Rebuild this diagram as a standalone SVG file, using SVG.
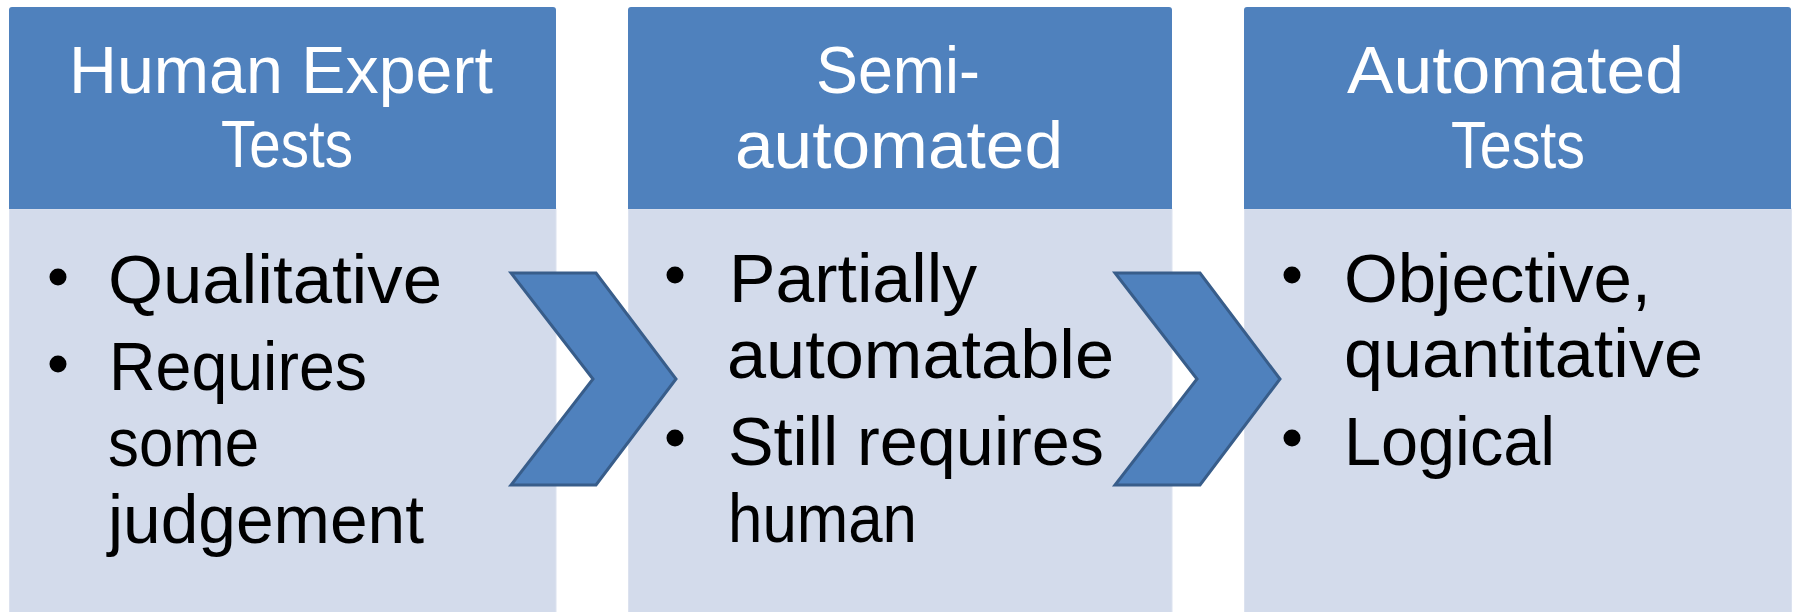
<svg xmlns="http://www.w3.org/2000/svg" width="1793" height="612" viewBox="0 0 1793 612">
  <style>
    .head { fill: #4f81bd; }
    .body { fill: #d3dbeb; stroke: #dce2ef; stroke-width: 1; }
    .ht { font-family: "Liberation Sans", Arial, sans-serif; font-size: 66px; fill: #ffffff; }
    .bt { font-family: "Liberation Sans", Arial, sans-serif; font-size: 68px; fill: #000000; }
    .dot { fill: #000000; }
    .chev { fill: #4f81bd; stroke: #385d8a; stroke-width: 3; stroke-linejoin: miter; }
  </style>
  <rect x="0" y="0" width="1793" height="612" fill="#ffffff"/>

  <g id="node-human-expert">
    <rect class="body" x="9.5" y="209" width="546.5" height="410"/>
    <path class="head" d="M9,209 V10 Q9,7 12,7 H553 Q556,7 556,10 V209 Z"/>
    <text class="ht" x="69" y="93" textLength="424" lengthAdjust="spacingAndGlyphs">Human Expert</text>
    <text class="ht" x="221" y="167" textLength="132" lengthAdjust="spacingAndGlyphs">Tests</text>
    <circle class="dot" cx="58" cy="277" r="8.5"/>
    <text class="bt" x="108" y="303" textLength="334" lengthAdjust="spacingAndGlyphs">Qualitative</text>
    <circle class="dot" cx="58" cy="364" r="8.5"/>
    <text class="bt" x="109" y="390" textLength="258" lengthAdjust="spacingAndGlyphs">Requires</text>
    <text class="bt" x="108" y="466" textLength="151" lengthAdjust="spacingAndGlyphs">some</text>
    <text class="bt" x="108" y="543" textLength="316" lengthAdjust="spacingAndGlyphs">judgement</text>
  </g>

  <g id="node-semi-automated">
    <rect class="body" x="628.5" y="209" width="543.5" height="410"/>
    <path class="head" d="M628,209 V10 Q628,7 631,7 H1169 Q1172,7 1172,10 V209 Z"/>
    <text class="ht" x="816" y="93" textLength="164" lengthAdjust="spacingAndGlyphs">Semi-</text>
    <text class="ht" x="735" y="168" textLength="328" lengthAdjust="spacingAndGlyphs">automated</text>
    <circle class="dot" cx="675" cy="275" r="8.5"/>
    <text class="bt" x="729" y="302" textLength="248" lengthAdjust="spacingAndGlyphs">Partially</text>
    <text class="bt" x="727" y="378" textLength="387" lengthAdjust="spacingAndGlyphs">automatable</text>
    <circle class="dot" cx="675" cy="438" r="8.5"/>
    <text class="bt" x="728" y="465" textLength="376" lengthAdjust="spacingAndGlyphs">Still requires</text>
    <text class="bt" x="728" y="542" textLength="189" lengthAdjust="spacingAndGlyphs">human</text>
  </g>

  <g id="node-automated-tests">
    <rect class="body" x="1244.5" y="209" width="547" height="410"/>
    <path class="head" d="M1244,209 V10 Q1244,7 1247,7 H1788 Q1791,7 1791,10 V209 Z"/>
    <text class="ht" x="1347" y="93" textLength="337" lengthAdjust="spacingAndGlyphs">Automated</text>
    <text class="ht" x="1451" y="168" textLength="134" lengthAdjust="spacingAndGlyphs">Tests</text>
    <circle class="dot" cx="1292" cy="275" r="8.5"/>
    <text class="bt" x="1344" y="302" textLength="307" lengthAdjust="spacingAndGlyphs">Objective,</text>
    <text class="bt" x="1344" y="377" textLength="359" lengthAdjust="spacingAndGlyphs">quantitative</text>
    <circle class="dot" cx="1292" cy="438" r="8.5"/>
    <text class="bt" x="1344" y="465" textLength="211" lengthAdjust="spacingAndGlyphs">Logical</text>
  </g>

  <g id="connectors">
    <path class="chev" d="M511,273 L596,273 L676,379 L596,485 L511,485 L593,379 Z"/>
    <path class="chev" d="M1115,273 L1200,273 L1280,379 L1200,485 L1115,485 L1197,379 Z"/>
  </g>
</svg>
